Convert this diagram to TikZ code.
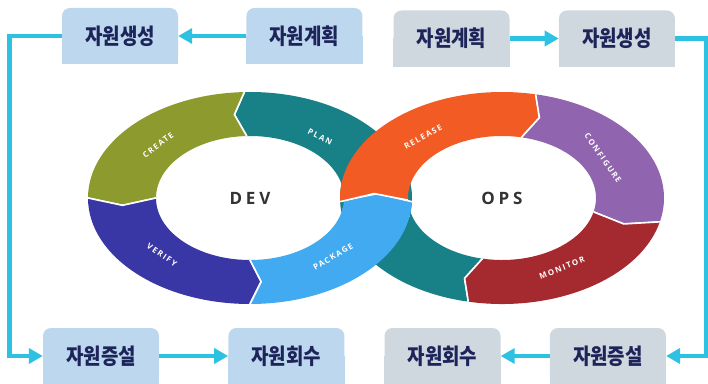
\documentclass[tikz,border=0pt]{standalone}
\usepackage{fontspec}
\usepackage{tikz}
\usetikzlibrary{arrows.meta, positioning, backgrounds}

\setsansfont{Open Sans}
\newfontfamily\krfont{Noto Sans CJK KR}[FakeStretch=0.86]
\newfontfamily\tagfont{Open Sans}[LetterSpace=18]
\newfontfamily\hubfont{Open Sans}[LetterSpace=22]

\definecolor{boxblue}{HTML}{BDD7EE}
\definecolor{boxgray}{HTML}{CFD8DF}
\definecolor{navy}{HTML}{1C2459}
\definecolor{linkcyan}{HTML}{2EC2E2}
\definecolor{plancol}{HTML}{188087}
\definecolor{createcol}{HTML}{8C9A2E}
\definecolor{verifycol}{HTML}{3936A6}
\definecolor{packagecol}{HTML}{41AAF0}
\definecolor{releasecol}{HTML}{F25C24}
\definecolor{configcol}{HTML}{9064AE}
\definecolor{monitorcol}{HTML}{A52A30}

% one arrow-shaped piece of a ring: centre, from angle, to angle, direction (+1/-1), colour
\newcommand{\ringpart}[5]{%
  \pgfmathsetmacro{\tipang}{#3+#4*5}%
  \pgfmathsetmacro{\notchang}{#2+#4*5}%
  \fill[#5, shift={(#1)}]
    (#2:162pt and 106pt) arc[start angle=#2, end angle=#3, x radius=162pt, y radius=106pt]
    -- (\tipang:128pt and 84pt) -- (#3:94pt and 62pt)
    arc[start angle=#3, end angle=#2, x radius=94pt, y radius=62pt]
    -- (\notchang:128pt and 84pt) -- cycle;
  \draw[white, line width=1.6pt, line join=round, shift={(#1)}]
    (#3:162pt and 106pt) -- (\tipang:128pt and 84pt) -- (#3:94pt and 62pt)
    (#2:162pt and 106pt) -- (\notchang:128pt and 84pt) -- (#2:94pt and 62pt);
}

\begin{document}
\begin{tikzpicture}[x=1pt, y=1pt]
    \tikzstyle{bluebox} = [rectangle, rounded corners=8pt, minimum width=116pt,
                           minimum height=56pt, fill=boxblue, text=navy,
                           font=\krfont\bfseries\fontsize{22}{25}\selectfont]
    \tikzstyle{graybox} = [bluebox, fill=boxgray]
    \tikzstyle{link} = [-{Triangle[length=14pt, width=15pt]}, line width=4.5pt, color=linkcyan]
    \tikzstyle{steptag} = [text=white, inner sep=0pt,
                           font=\tagfont\bfseries\fontsize{8}{9}\selectfont]
    \tikzstyle{hub} = [text=black!80, font=\hubfont\bfseries\fontsize{17}{20}\selectfont]

    \useasboundingbox (0,0) rectangle (708,383);

    % the two rings
    \coordinate (dev) at (250,185);
    \coordinate (ops) at (502,185);

    \ringpart{ops}{-102}{-190}{-1}{plancol}
    \ringpart{dev}{-10}{92}{1}{plancol}
    \ringpart{dev}{92}{180}{1}{createcol}
    \ringpart{dev}{180}{270}{1}{verifycol}
    \ringpart{dev}{270}{358}{1}{packagecol}
    \ringpart{ops}{182}{78}{-1}{releasecol}
    \ringpart{ops}{78}{-13}{-1}{configcol}
    \ringpart{ops}{-13}{-102}{-1}{monitorcol}

    \node (devhub) [hub] at (dev) {DEV};
    \node (opshub) [hub] at (ops) {OPS};

    \node (plantag)    [steptag, rotate=-26] at (320,246) {PLAN};
    \node (createtag)  [steptag, rotate=37]  at (158,238) {CREATE};
    \node (verifytag)  [steptag, rotate=-34] at (162,128) {VERIFY};
    \node (packagetag) [steptag, rotate=31]  at (333,126) {PACKAGE};
    \node (releasetag) [steptag, rotate=29]  at (423,246) {RELEASE};
    \node (configtag)  [steptag, rotate=-55] at (603,225) {CONFIGURE};
    \node (monitortag) [steptag, rotate=21]  at (562,115) {MONITOR};

    % boxes, left loop
    \node (make1) [bluebox] at (120,347)            {자원생성};
    \node (plan1) [bluebox, right=68pt of make1]    {자원계획};
    \node (grow1) [bluebox] at (101,27)             {자원증설};
    \node (back1) [bluebox, right=69pt of grow1]    {자원회수};

    % boxes, right loop
    \node (plan2) [graybox] at (451.5,344.5)        {자원계획};
    \node (make2) [graybox, right=49pt of plan2]    {자원생성};
    \node (back2) [graybox] at (442.5,27)           {자원회수};
    \node (grow2) [graybox, right=49pt of back2]    {자원증설};

    % square off the lower corners
    \begin{scope}[on background layer]
      \foreach \n/\c in {make1/boxblue, plan1/boxblue, grow1/boxblue, back1/boxblue,
                         plan2/boxgray, make2/boxgray, back2/boxgray, grow2/boxgray}
        \fill[\c] (\n.west) rectangle (\n.south east);
    \end{scope}

    \draw[link] (plan1) -- (make1);
    \draw[link] (make1.west) -| ([xshift=-33.5pt]grow1.west) -- (grow1);
    \draw[link] (grow1) -- (back1);

    \draw[link] (plan2) -- (make2);
    \draw[link] (make2.east) -| ([xshift=40.5pt]grow2.east) -- (grow2);
    \draw[link] (grow2) -- (back2);
\end{tikzpicture}
\end{document}
